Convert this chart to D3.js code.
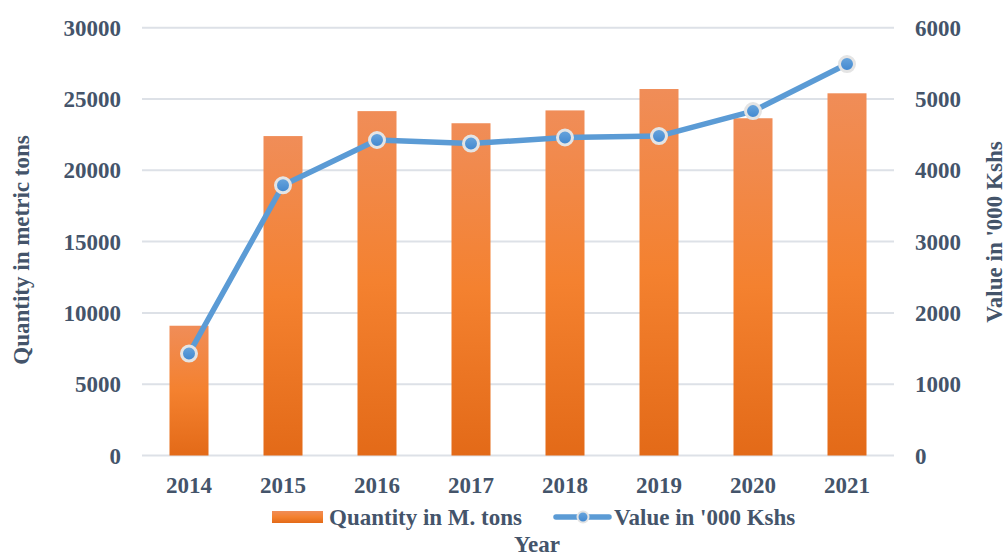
<!DOCTYPE html>
<html>
<head>
<meta charset="utf-8">
<script src="https://cdn.jsdelivr.net/npm/d3@7"></script>
<style>
  body { margin: 0; background: #fff; }
  text { font-family: "Liberation Serif", "Times New Roman", serif; font-weight: bold; fill: #44546a; }
</style>
</head>
<body>
<div id="chart"></div>
<script>
// data
var years = ["2014", "2015", "2016", "2017", "2018", "2019", "2020", "2021"];
var quantity = [9100, 22400, 24150, 23300, 24200, 25700, 23650, 25400];
var value = [1430, 3790, 4425, 4375, 4460, 4480, 4830, 5490];
var leftTicks = [0, 5000, 10000, 15000, 20000, 25000, 30000];
var rightTicks = [0, 1000, 2000, 3000, 4000, 5000, 6000];

var width = 1007, height = 558;
var plot = {left: 142, right: 894, top: 27.7, bottom: 455.5};

var svg = d3.select("#chart").append("svg")
  .attr("width", width)
  .attr("height", height);

var defs = svg.append("defs");
var barGrad = defs.append("linearGradient")
  .attr("id", "barGrad")
  .attr("x1", 0).attr("y1", 0).attr("x2", 0).attr("y2", 1);
barGrad.append("stop").attr("offset", "0%").attr("stop-color", "#f08d58");
barGrad.append("stop").attr("offset", "50%").attr("stop-color", "#f4812f");
barGrad.append("stop").attr("offset", "100%").attr("stop-color", "#e36a18");

var dotGrad = defs.append("linearGradient")
  .attr("id", "dotGrad")
  .attr("x1", 0).attr("y1", 0).attr("x2", 0).attr("y2", 1);
dotGrad.append("stop").attr("offset", "0%").attr("stop-color", "#6aa6dd");
dotGrad.append("stop").attr("offset", "100%").attr("stop-color", "#3f86cf");

var x = d3.scaleBand()
  .domain(years)
  .range([plot.left, plot.right])
  .paddingInner(0.585)
  .paddingOuter(0.2925);

var yL = d3.scaleLinear().domain([0, 30000]).range([plot.bottom, plot.top]);
var yR = d3.scaleLinear().domain([0, 6000]).range([plot.bottom, plot.top]);

// gridlines
svg.append("g")
  .selectAll("line")
  .data(leftTicks)
  .join("line")
  .attr("x1", plot.left)
  .attr("x2", plot.right)
  .attr("y1", function(d){ return yL(d); })
  .attr("y2", function(d){ return yL(d); })
  .attr("stroke", "#dde1e7")
  .attr("stroke-width", 2);

// left axis
var leftAxis = svg.append("g")
  .attr("transform", "translate(" + (plot.left - 21) + ",0)")
  .call(d3.axisLeft(yL).tickValues(leftTicks).tickFormat(d3.format("d")).tickSize(0).tickPadding(0));
leftAxis.select(".domain").remove();
leftAxis.selectAll("text")
  .style("font-size", "23px")
  .attr("dy", "0.33em")
  .attr("fill", null);

// right axis
var rightAxis = svg.append("g")
  .attr("transform", "translate(" + (plot.right + 21) + ",0)")
  .call(d3.axisRight(yR).tickValues(rightTicks).tickFormat(d3.format("d")).tickSize(0).tickPadding(0));
rightAxis.select(".domain").remove();
rightAxis.selectAll("text")
  .style("font-size", "23px")
  .attr("dy", "0.33em")
  .attr("fill", null);

// x axis labels
var bottomAxis = svg.append("g")
  .attr("transform", "translate(0," + plot.bottom + ")")
  .call(d3.axisBottom(x).tickSize(0).tickPadding(0));
bottomAxis.select(".domain").remove();
bottomAxis.selectAll("text")
  .style("font-size", "23px")
  .attr("dy", null)
  .attr("y", 37)
  .attr("fill", null);

// bars
svg.append("g")
  .selectAll("rect")
  .data(years)
  .join("rect")
  .attr("x", function(d){ return x(d); })
  .attr("width", x.bandwidth())
  .attr("y", function(d, i){ return yL(quantity[i]); })
  .attr("height", function(d, i){ return plot.bottom - yL(quantity[i]); })
  .attr("fill", "url(#barGrad)");

// line
var line = d3.line()
  .x(function(d, i){ return x(years[i]) + x.bandwidth() / 2; })
  .y(function(d){ return yR(d); });

svg.append("path")
  .datum(value)
  .attr("d", line)
  .attr("fill", "none")
  .attr("stroke", "#5b9bd5")
  .attr("stroke-width", 5.5)
  .attr("stroke-linejoin", "round");

svg.append("g")
  .selectAll("circle")
  .data(value)
  .join("circle")
  .attr("cx", function(d, i){ return x(years[i]) + x.bandwidth() / 2; })
  .attr("cy", function(d){ return yR(d); })
  .attr("r", 7.5)
  .attr("fill", "url(#dotGrad)")
  .attr("stroke", "#e4e4e4")
  .attr("stroke-width", 3);

// axis titles
svg.append("text")
  .attr("transform", "translate(29,250) rotate(-90)")
  .attr("text-anchor", "middle")
  .style("font-size", "23px")
  .text("Quantity in metric tons");

svg.append("text")
  .attr("transform", "translate(1002,232) rotate(-90)")
  .attr("text-anchor", "middle")
  .style("font-size", "23px")
  .text("Value in '000 Kshs");

svg.append("text")
  .attr("x", 537)
  .attr("y", 552)
  .attr("text-anchor", "middle")
  .style("font-size", "23px")
  .text("Year");

// legend
var legend = svg.append("g");
legend.append("rect")
  .attr("x", 272).attr("y", 511)
  .attr("width", 51).attr("height", 12)
  .attr("fill", "url(#barGrad)");
legend.append("text")
  .attr("x", 329).attr("y", 525)
  .style("font-size", "23px")
  .text("Quantity in M. tons");
legend.append("line")
  .attr("x1", 556).attr("x2", 609)
  .attr("y1", 517).attr("y2", 517)
  .attr("stroke", "#5b9bd5")
  .attr("stroke-width", 5.5)
  .attr("stroke-linecap", "round");
legend.append("circle")
  .attr("cx", 583).attr("cy", 517)
  .attr("r", 5.5)
  .attr("fill", "url(#dotGrad)")
  .attr("stroke", "#e4e4e4")
  .attr("stroke-width", 2);
legend.append("text")
  .attr("x", 614).attr("y", 525)
  .style("font-size", "23px")
  .text("Value in '000 Kshs");
</script>
</body>
</html>
